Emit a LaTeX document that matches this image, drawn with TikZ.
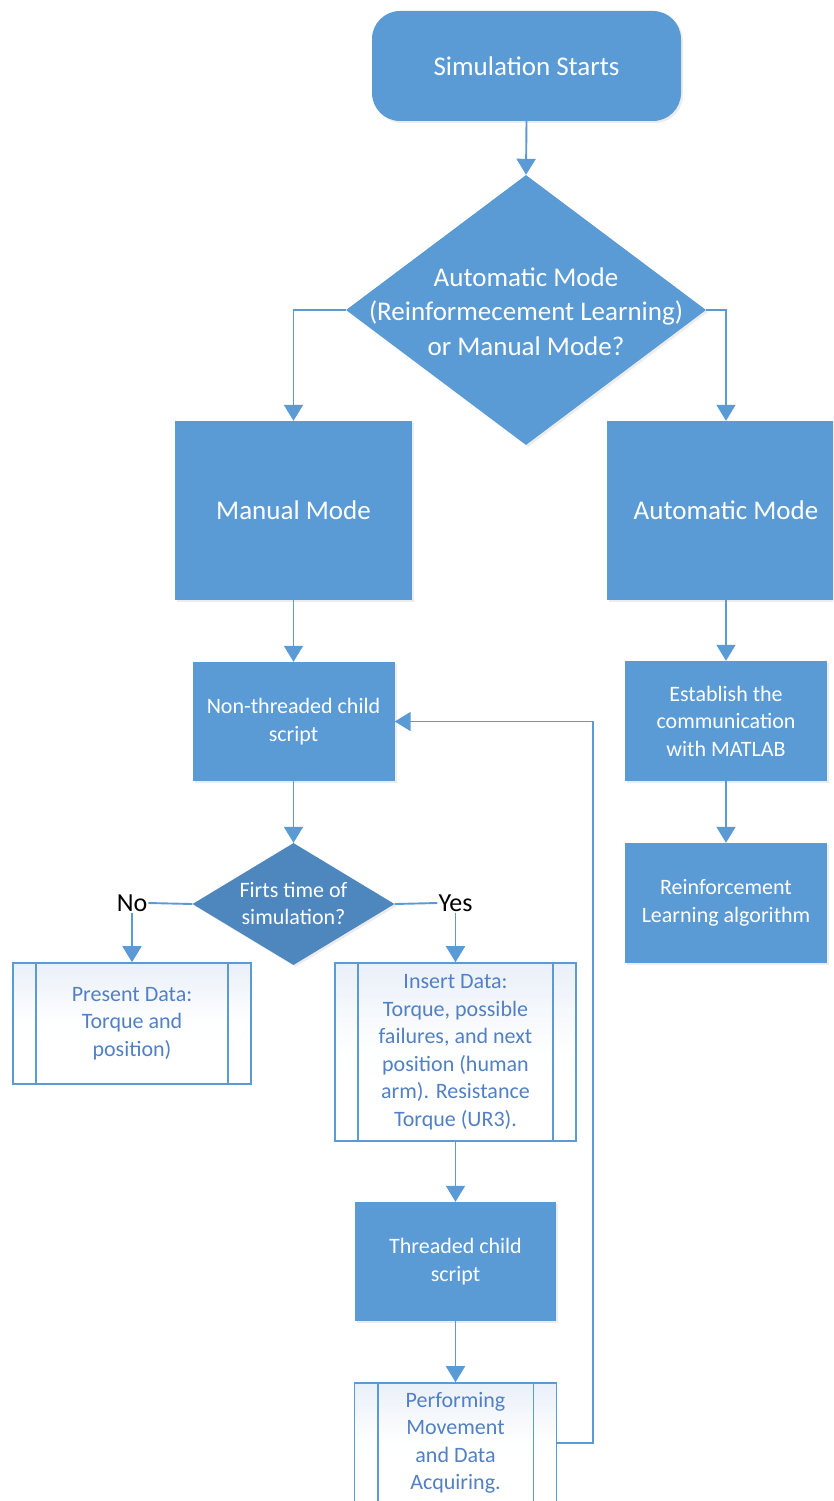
\documentclass[tikz,border=0pt]{standalone}
\usepackage{fontspec}
\setmainfont{Carlito}
\usetikzlibrary{arrows.meta,shapes.geometric,calc,shadows}
\definecolor{mblue}{HTML}{5B9BD5}
\definecolor{dblue}{HTML}{4E86BE}
\definecolor{subtext}{HTML}{5280C4}
\definecolor{subfill}{HTML}{EAF0F9}
\newcommand\fbig{\fontsize{27}{34.5}\selectfont}
\newcommand\fsmall{\fontsize{22}{27.5}\selectfont}
\newcommand\flab{\fontsize{26}{30}\selectfont}
\begin{document}
\begin{tikzpicture}[x=1pt,y=-1pt,
  arr/.style={draw=mblue, line width=1.9pt, -{Triangle[width=19pt,length=16pt]}},
  ln/.style={draw=mblue, line width=1.9pt},
  proc/.style={fill=mblue, text=white, inner sep=0pt, align=center,
    drop shadow={opacity=0.15,shadow xshift=2pt,shadow yshift=-2pt}},
  sub/.style={draw=mblue, line width=1.6pt, shading angle=135, top color=subfill, bottom color=white, middle color=white!97!subfill,
    text=subtext, inner sep=0pt, align=center, font=\fsmall},
  sbar/.style={draw=mblue, line width=1.6pt},
  wtext/.style={text=white, inner sep=0pt, align=center},
  lab/.style={text=black, inner sep=1pt, font=\flab}]
\useasboundingbox (0,0) rectangle (833,1501);
\clip (0,0) rectangle (833,1501);
\fill[white] (0,0) rectangle (833,1501);

% start
\node[proc, rounded corners=28pt, minimum width=309pt, minimum height=110pt, font=\fbig] (start) at (526.5,66) {Simulation Starts};

% main decision
\node[proc, diamond, minimum width=360pt, minimum height=270pt] (d1) at (526,310) {};
\node[wtext, font=\fbig] (d1t) at (526,311.5) {Automatic Mode\\(Reinformecement Learning)\\or Manual Mode?};

% modes
\node[proc, minimum width=237pt, minimum height=179pt, font=\fbig] (mm) at (293.5,510.5) {Manual Mode};
\node[proc, minimum width=238pt, minimum height=179pt, font=\fbig] (am) at (726,510.5) {Automatic Mode};

% manual branch
\node[proc, minimum width=202pt, minimum height=119pt, font=\fsmall] (nt) at (293.5,721.5) {Non-threaded child\\script};
\node[proc, fill=dblue, diamond, minimum width=202pt, minimum height=122pt] (d2) at (293.5,904) {};
\node[wtext, font=\fsmall] (d2t) at (293.5,903.5) {Firts time of\\simulation?};

\node[lab] (no) at (132,903) {No};
\node[lab] (yes) at (455.5,903) {Yes};

\node[sub, minimum width=238pt, minimum height=121pt] (pd) at (132,1023.5) {Present Data:\\Torque and\\position)};
\node[sub, minimum width=241pt, minimum height=178pt] (id) at (455.5,1052) {Insert Data:\\Torque, possible\\failures, and next\\position (human\\arm). Resistance\\Torque (UR3).};
\node[proc, minimum width=201pt, minimum height=119pt, font=\fsmall] (th) at (455.5,1261.5) {Threaded child\\script};
\node[sub, minimum width=202pt, minimum height=120pt] (pf) at (455.5,1443) {Performing\\Movement\\and Data\\Acquiring.};

% automatic branch
\node[proc, minimum width=202pt, minimum height=120pt, font=\fsmall] (es) at (726,721) {Establish the\\communication\\with MATLAB};
\node[proc, minimum width=202pt, minimum height=120pt, font=\fsmall] (rl) at (726,903) {Reinforcement\\Learning algorithm};

% subroutine bars
\foreach \n in {pd,id,pf}{
  \draw[sbar] ([xshift=24pt]\n.north west) -- ([xshift=24pt]\n.south west);
  \draw[sbar] ([xshift=-24pt]\n.north east) -- ([xshift=-24pt]\n.south east);
}

% connectors
\draw[arr] (start.south) -- (d1.north);
\draw[arr] (d1.west) -| (mm.north);
\draw[arr] (d1.east) -| (am.north);
\draw[arr] (mm.south) -- (nt.north);
\draw[arr] (nt.south) -- (d2.north);
\draw[ln] (d2.west) -- (no.east);
\draw[arr] (no.south) -- (pd.north);
\draw[ln] (d2.east) -- (yes.west);
\draw[arr] (yes.south) -- (id.north);
\draw[arr] (id.south) -- (th.north);
\draw[arr] (th.south) -- (pf.north);
\draw[arr] (pf.east) -- ++(36,0) |- (nt.east);
\draw[arr] (am.south) -- (es.north);
\draw[arr] (es.south) -- (rl.north);
\end{tikzpicture}
\end{document}
